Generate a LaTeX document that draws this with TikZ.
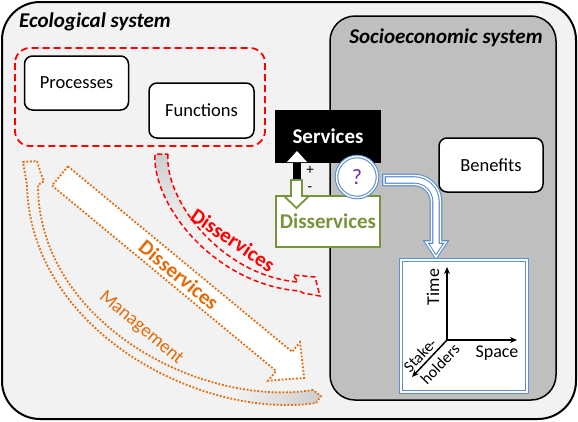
\documentclass[tikz,border=0pt]{standalone}
\usepackage{fontspec}
\setmainfont{Carlito}
\usetikzlibrary{arrows.meta,calc}
\definecolor{bgc}{HTML}{F2F2F2}
\definecolor{socioc}{HTML}{BFBFBF}
\definecolor{orng}{HTML}{E46C0A}
\definecolor{grn}{HTML}{77933C}
\definecolor{blu}{HTML}{5B8FD0}
\definecolor{purp}{HTML}{7030A0}
\definecolor{redd}{HTML}{FF0000}
\newcommand\redshape{(168,154) .. controls (164,200) and (222,276) .. (298,282) -- (293,275) -- (315,277) -- (320,296) -- (303,293) -- (300,291) .. controls (215,285) and (152,205) .. (155,154) -- cycle}
\newcommand\mgmtshape{(313,390) .. controls (200,408) and (38,322) .. (38,185) -- (44,181) -- (41,174) -- (37,161) -- (23,162) -- (27,185) .. controls (30,330) and (200,420) .. (316,403) -- (321,396) -- cycle}
\begin{document}
\begin{tikzpicture}[x=1pt,y=-1pt,
  rbox/.style={draw=black, line width=1.5pt, fill=white, rounded corners=8pt, minimum width=104pt, minimum height=54pt, inner sep=0pt, font=\fontsize{18.5}{20}\selectfont},
  ttl/.style={font=\fontsize{21}{23}\selectfont\bfseries\itshape},
  orgdot/.style={orng, line width=1.8pt, dash pattern=on 1.8pt off 1.8pt},
  bluline/.style={draw=blu, line width=1.1pt, double=white, double distance=1.4pt},
  axlab/.style={font=\fontsize{18}{20}\selectfont, inner sep=0pt},
  axarrow/.style={-{Stealth[length=7pt,width=6pt]}, line width=1.5pt}]
\useasboundingbox (0,0) rectangle (578,421);
% backgrounds
\draw[line width=2pt, fill=bgc, rounded corners=38pt] (2,2) rectangle (576,419);
\draw[line width=1.5pt, fill=socioc, rounded corners=25pt] (330,16) rectangle (556,400);
\node[ttl] (eco) at (95,22) {Ecological system};
\node[ttl] (soc) at (446,38) {Socioeconomic system};
% red dashed group
\draw[redd, line width=1.8pt, dash pattern=on 7pt off 4pt, rounded corners=15pt] (15,48) rectangle (265,146);
\node[rbox] (proc) at (76.5,83) {Processes};
\node[rbox, minimum width=105pt, minimum height=55pt] (func) at (201.5,110.5) {Functions};
% red disservices arrow
\begin{scope}
  \clip \redshape;
  \shade[top color=gray!40, bottom color=bgc] (140,150) rectangle (200,230);
\end{scope}
\draw[redd, line width=1.5pt, dash pattern=on 5pt off 3pt] \redshape;
\node[font=\fontsize{21}{23}\selectfont\bfseries, text=redd, rotate=-34] (rdis) at (233,240) {Disservices};
% big orange arrow
\draw[orgdot, fill=white] (67.96,166.37) -- (292.1,351.8) -- (300.0,342.2) -- (304.1,377.9) -- (268.2,380.7) -- (276.1,371.0) -- (52.0,185.6) -- cycle;
\node[font=\fontsize{21}{23}\selectfont\bfseries, text=orng, rotate=-39.6] (odis) at (179,275) {Disservices};
% management arrow
\begin{scope}
  \clip \mgmtshape;
  \shade[left color=bgc, right color=gray!40] (235,370) rectangle (322,410);
\end{scope}
\draw[orgdot] \mgmtshape;
\node[font=\fontsize{19}{21}\selectfont, text=orng, rotate=-40] (mgmt) at (141,328) {Management};
% services / disservices
\node[fill=black, text=white, minimum width=106pt, minimum height=53pt, inner sep=0pt, font=\fontsize{21}{23}\selectfont\bfseries] (serv) at (328,136.5) {Services};
\node[draw=grn, line width=2pt, fill=white, text=grn, minimum width=104pt, minimum height=51pt, inner sep=0pt, font=\fontsize{21}{23}\selectfont\bfseries] (dserv) at (328,221) {Disservices};
\fill[black] (293,160) rectangle (301,179);
\fill[white] (287,162) -- (297,151) -- (307,162) -- cycle;
\draw[grn, line width=1.8pt, fill=white] (291,180) -- (302,180) -- (302,196) -- (309,196) -- (296.5,208) -- (284,196) -- (291,196) -- cycle;
\node[font=\fontsize{15}{17}\selectfont, inner sep=0pt] (plus) at (310,170) {+};
\node[font=\fontsize{15}{17}\selectfont, inner sep=0pt] (minus) at (310,189) {-};
% question circle and blue arrow
\node[circle, bluline, fill=white, minimum size=41pt, inner sep=0pt, text=purp, font=\fontsize{22}{24}\selectfont] (q) at (357,177) {?};
\draw[bluline, fill=white] (384,175.5) -- (414.5,175.5) .. controls (428.8,175.5) and (440.5,187.2) .. (440.5,201.5) -- (440.5,242) -- (446,242) -- (436,257) -- (426,242) -- (431.5,242) -- (431.5,201.5) .. controls (431.5,192.2) and (423.8,184.5) .. (414.5,184.5) -- (384,184.5) -- cycle;
\node[rbox] (ben) at (491,165) {Benefits};
% axes box
\draw[bluline, fill=white] (401,260) rectangle (527,392);
\coordinate (o) at (447,340);
\coordinate (tm) at (447,267);
\coordinate (sp) at (517,340);
\coordinate (sh) at (412,377);
\draw[axarrow] (o) -- (tm);
\draw[axarrow] (o) -- (sp);
\draw[axarrow] (o) -- (sh);
\node[axlab, rotate=90] (time) at (433,287) {Time};
\node[axlab] (space) at (497,353) {Space};
\node[font=\fontsize{16}{18}\selectfont, rotate=46, inner sep=0pt] (stake) at (420,355) {Stake-};
\node[font=\fontsize{16}{18}\selectfont, rotate=46, inner sep=0pt] (hold) at (440,364) {holders};
\end{tikzpicture}
\end{document}
